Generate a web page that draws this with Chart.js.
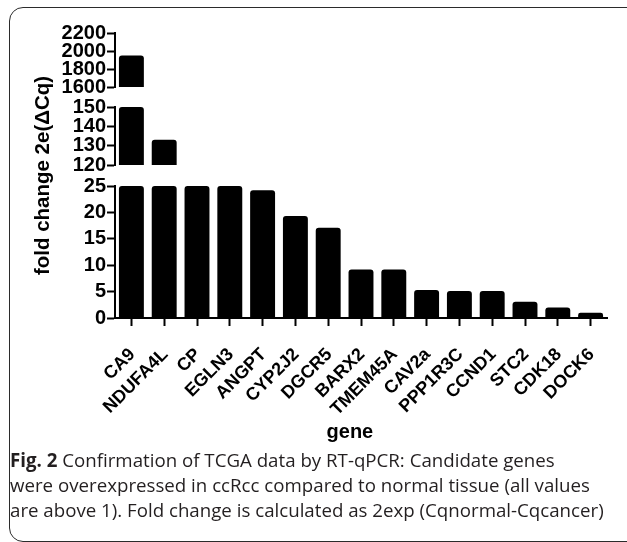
<!DOCTYPE html>
<html>
<head>
<meta charset="utf-8">
<script src="https://cdn.jsdelivr.net/npm/chart.js@4/dist/chart.umd.min.js"></script>
<style>
  html, body { margin: 0; padding: 0; background: #fff; }
  body { width: 627px; height: 542px; position: relative; overflow: hidden; }
  #frame {
    position: absolute; left: 9px; top: 7px; width: 660px; height: 535px;
    border: 1.5px solid #2b2b2b; border-radius: 14px; box-sizing: border-box;
  }
  #chartBox { position: absolute; left: 0; top: 0; width: 627px; height: 450px; }
  #caption {
    position: absolute; left: 10px; top: 447px; white-space: nowrap;
    font-family: "Open Sans", sans-serif; font-size: 18.7px; line-height: 25px; color: #231f20;
  }
  #caption b { font-weight: 700; }
</style>
</head>
<body>
<div id="frame"></div>
<div id="chartBox"><canvas id="chart" width="627" height="450"></canvas></div>
<div id="caption"><b>Fig. 2</b> Confirmation of TCGA data by RT-qPCR: Candidate genes<br>were overexpressed in ccRcc compared to normal tissue (all values<br>are above 1). Fold change is calculated as 2exp (Cqnormal-Cqcancer)</div>
<script>
// genes and fold change
const genes = ["CA9", "NDUFA4L", "CP", "EGLN3", "ANGPT", "CYP2J2", "DGCR5", "BARX2", "TMEM45A", "CAV2a", "PPP1R3C", "CCND1", "STC2", "CDK18", "DOCK6"];
const foldChange = [1950, 133, 25, 25, 24.2, 19.3, 17.1, 9.2, 9.2, 5.3, 5.1, 5.1, 3.1, 2.0, 1.0];

// broken y axis: [min, max, step] for each piece
const lowRange = [0, 25, 5];
const midRange = [120, 150, 10];
const topRange = [1600, 2200, 200];

const FONT = "'Liberation Sans', Arial, sans-serif";

function clipTo(range) {
  return foldChange.map((v) => {
    if (v <= range[0]) return null;
    return [range[0], Math.min(v, range[1])];
  });
}

function barSet(range, axis) {
  return {
    data: axis === "yLow" ? foldChange.map((v) => Math.min(v, range[1])) : clipTo(range),
    yAxisID: axis,
    grouped: false,
    backgroundColor: "#000",
    borderWidth: 0,
    borderRadius: { topLeft: 3, topRight: 3, bottomLeft: 0, bottomRight: 0 },
    barPercentage: 0.76,
    categoryPercentage: 1
  };
}

function pieceAxis(range, weight) {
  return {
    type: "linear",
    position: "left",
    stack: "fold",
    stackWeight: weight,
    min: range[0],
    max: range[1],
    ticks: {
      stepSize: range[2],
      autoSkip: false,
      color: "#000",
      padding: 1,
      font: { family: FONT, size: 20, weight: "bold" },
      callback(value) {
        return String(value);
      }
    },
    grid: { drawOnChartArea: false, drawTicks: true, tickLength: 8, tickWidth: 2, tickColor: "#000" },
    border: { display: true, color: "#000", width: 2 },
    afterFit(scale) { scale.width = 72; }
  };
}

function gapAxis(weight) {
  return {
    type: "linear",
    position: "left",
    stack: "fold",
    stackWeight: weight,
    ticks: { display: false },
    grid: { display: false },
    border: { display: false },
    afterFit(scale) { scale.width = 72; }
  };
}

new Chart(document.getElementById("chart"), {
  type: "bar",
  data: {
    labels: genes,
    datasets: [
      barSet(lowRange, "yLow"),
      barSet(midRange, "yMid"),
      barSet(topRange, "yTop")
    ]
  },
  options: {
    responsive: false,
    animation: false,
    layout: { padding: { left: 31, top: 33, right: 20, bottom: 0 } },
    plugins: { legend: { display: false }, tooltip: { enabled: false } },
    scales: {
      x: {
        offset: true,
        ticks: {
          autoSkip: false,
          maxRotation: 45,
          minRotation: 45,
          color: "#000",
          padding: 18,
          labelOffset: 1,
          font: { family: FONT, size: 18, weight: "bold" }
        },
        grid: { offset: false, drawOnChartArea: false, drawTicks: true, tickLength: 8, tickWidth: 2, tickColor: "#000" },
        border: { color: "#000", width: 2 },
        title: {
          display: true,
          text: "gene\u00a0\u00a0\u00a0\u00a0",
          color: "#000",
          padding: { top: 0, bottom: 6 },
          font: { family: FONT, size: 20, weight: "bold" }
        },
        afterFit(scale) { scale.height = 132; }
      },
      yLow: pieceAxis(lowRange, 132),
      gapLow: gapAxis(21),
      yMid: pieceAxis(midRange, 58),
      gapTop: gapAxis(20),
      yTop: pieceAxis(topRange, 54),
      yTitle: {
        type: "linear",
        position: "left",
        ticks: { display: false },
        grid: { display: false },
        border: { display: false },
        title: {
          display: true,
          text: "fold change 2e(\u0394Cq)",
          color: "#000",
          padding: 0,
          font: { family: FONT, size: 20.5, weight: "bold" }
        },
        afterFit(scale) { scale.width = 12; }
      }
    }
  }
});
</script>
</body>
</html>
